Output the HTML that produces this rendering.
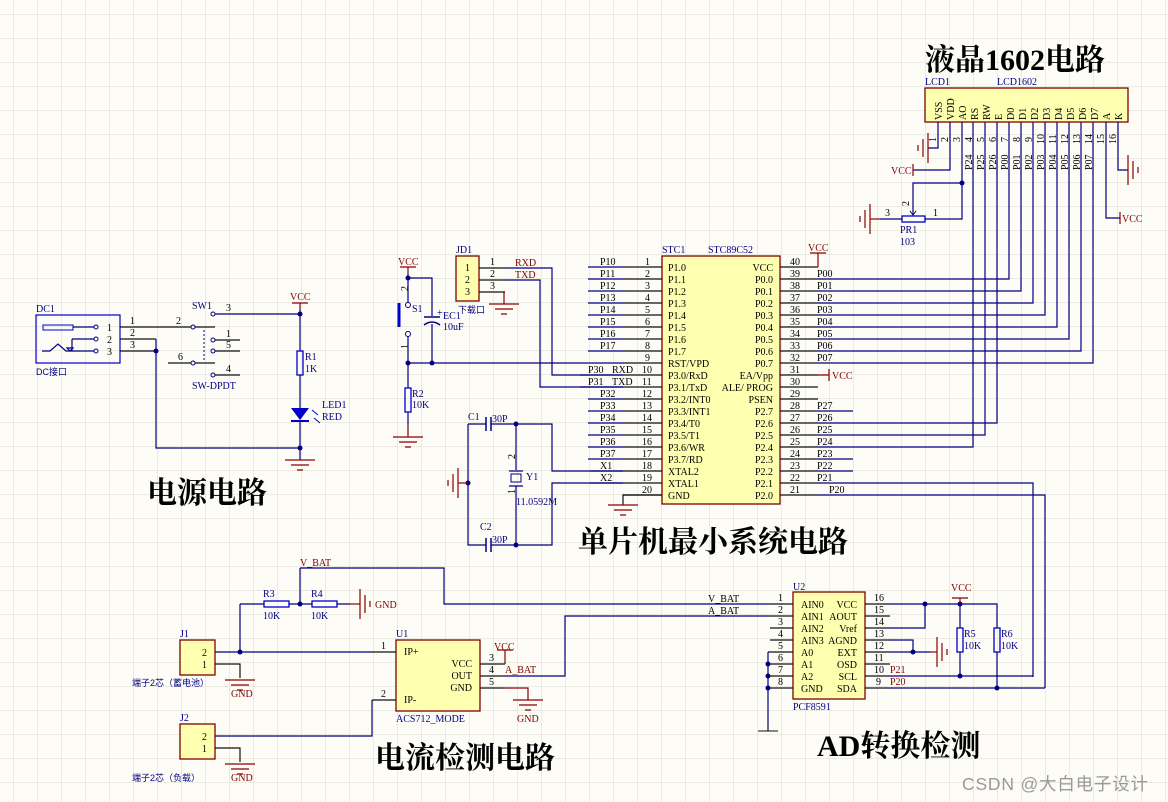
<!DOCTYPE html>
<html><head><meta charset="utf-8"><style>
html,body{margin:0;padding:0;}
body{width:1168px;height:802px;overflow:hidden;background-color:#fdfcf7;
background-image:linear-gradient(to right,#ebebe4 1px,transparent 1px),linear-gradient(to bottom,#ebebe4 1px,transparent 1px);
background-size:24px 24px;background-position:13px 14px;}
svg{position:absolute;left:0;top:0;}
.w{stroke:#000080;stroke-width:1.2;fill:none}
.p{stroke:#111;stroke-width:1.2;fill:none}
.r{stroke:#8b0000;stroke-width:1.2;fill:none}
.box{fill:#ffffb0;stroke:#800000;stroke-width:1.3}
.res{fill:none;stroke:#0000cc;stroke-width:1.3}
text{font-family:"Liberation Serif",serif;font-size:10px;fill:#000}
.b{fill:#000080}
.n{fill:#800000}
.t{font-family:"Liberation Serif","Noto Serif CJK SC",serif;font-size:30px;fill:#000;font-weight:bold}
.c{font-family:"Liberation Sans","Noto Sans CJK SC",sans-serif;font-size:9px;fill:#000080}
</style></head><body>
<svg width="1168" height="802" viewBox="0 0 1168 802">
<defs>
<g id="gd" class="r"><path d="M-15 0H15M-9 5H9M-3 10H3"/></g>
<g id="gr" class="r"><path d="M0 -15V15M5 -9V9M10 -3V3"/></g>
<g id="gl" class="r"><path d="M0 -15V15M-5 -9V9M-10 -3V3"/></g>
</defs>

<!-- titles -->
<text class="t" x="925" y="70">液晶1602电路</text>
<text class="t" x="147" y="503">电源电路</text>
<text class="t" x="578" y="552">单片机最小系统电路</text>
<text class="t" x="375" y="768">电流检测电路</text>
<text class="t" x="817" y="756">AD转换检测</text>
<text x="962" y="790" style="font-family:'Liberation Sans','Noto Sans CJK SC',sans-serif;font-size:17.5px;letter-spacing:0.8px;fill:#999">CSDN @大白电子设计</text>

<!-- ===== Power ===== -->
<text class="b" x="36" y="312">DC1</text>
<rect x="36" y="315" width="84" height="48" fill="none" stroke="#0000cc" stroke-width="1.2"/>
<rect x="43" y="325" width="30" height="5" fill="none" stroke="#0000cc"/>
<path class="w" d="M73 327H94M72 339H94M72 339V351M42 351L50 351L58 344L66 351H94M70 351l-3 -3h6z"/>
<circle cx="96" cy="327" r="2" fill="none" stroke="#000080"/><circle cx="96" cy="339" r="2" fill="none" stroke="#000080"/><circle cx="96" cy="351" r="2" fill="none" stroke="#000080"/>
<text x="107" y="331">1</text><text x="107" y="343">2</text><text x="107" y="355">3</text>
<text class="c" x="36" y="375">DC接口</text>
<path class="p" d="M120 327H191M120 339H156M120 351H156"/>
<path class="w" d="M156 339V448H300"/>
<circle cx="156" cy="351" r="2.5" fill="#000080"/>
<text x="130" y="324">1</text><text x="130" y="336">2</text><text x="130" y="348">3</text>
<text x="176" y="324">2</text>
<text class="b" x="192" y="309">SW1</text>
<g fill="none" stroke="#000080"><circle cx="193" cy="327" r="2"/><circle cx="213" cy="314" r="2"/><circle cx="213" cy="340" r="2"/><circle cx="213" cy="351" r="2"/><circle cx="193" cy="363" r="2"/><circle cx="213" cy="375" r="2"/></g>
<path class="p" d="M195 327H215M215 340H240M215 351H240M168 363H191M195 363H215M215 375H240"/>
<path class="w" d="M215 314H300" />
<path d="M204 330V360" stroke="#000080" stroke-dasharray="2,2"/>
<text x="226" y="311">3</text><text x="226" y="337">1</text><text x="226" y="348">5</text><text x="178" y="360">6</text><text x="226" y="372">4</text>
<text class="b" x="192" y="389">SW-DPDT</text>
<text class="n" x="290" y="300">VCC</text>
<path class="r" d="M292 303H308M300 303V310"/>
<path class="w" d="M300 310V351M300 375V408M300 420V460"/>
<circle cx="300" cy="314" r="2.5" fill="#000080"/><circle cx="300" cy="448" r="2.5" fill="#000080"/>
<rect x="297" y="351" width="6" height="24" class="res"/>
<text class="b" x="305" y="360">R1</text><text class="b" x="305" y="372">1K</text>
<path d="M291 408H309L300 420Z" fill="#0000cc"/><path d="M291 421H309" stroke="#0000cc" stroke-width="2"/>
<path d="M312 410l6 5M314 418l6 5" stroke="#0000cc"/>
<text class="b" x="322" y="408">LED1</text><text class="b" x="322" y="420">RED</text>
<use href="#gd" x="300" y="460"/>

<!-- ===== Reset / JD1 ===== -->
<text class="n" x="398" y="265">VCC</text>
<path class="r" d="M400 267H416M408 267V274"/>
<path class="w" d="M408 274V302M408 278H432V316M432 324V363M408 337V363H623M408 363V388M408 412V425"/>
<path class="r" d="M408 425V437"/>
<use href="#gd" x="408" y="437"/>
<circle cx="408" cy="278" r="2.5" fill="#000080"/><circle cx="408" cy="363" r="2.5" fill="#000080"/><circle cx="432" cy="363" r="2.5" fill="#000080"/>
<circle cx="408" cy="305" r="2.5" fill="none" stroke="#000080"/><circle cx="408" cy="334" r="2.5" fill="none" stroke="#000080"/>
<path d="M399 303V327" stroke="#0000cc" stroke-width="3"/>
<text class="b" x="412" y="312">S1</text>
<text x="404" y="295" transform="rotate(-90 404 291)">2</text><text x="404" y="353" transform="rotate(-90 404 349)">1</text>
<path d="M424 317H440" stroke="#000080" stroke-width="1.5"/><path d="M424 325Q432 319 440 325" fill="none" stroke="#000080" stroke-width="1.5"/>
<text class="b" x="437" y="316">+</text><text class="b" x="443" y="319">EC1</text><text class="b" x="443" y="330">10uF</text>
<rect x="405" y="388" width="6" height="24" class="res"/>
<text class="b" x="412" y="397">R2</text><text class="b" x="412" y="408">10K</text>

<text class="b" x="456" y="253">JD1</text>
<rect x="456" y="256" width="23" height="45" class="box"/>
<text x="465" y="271">1</text><text x="465" y="283">2</text><text x="465" y="295">3</text>
<path class="p" d="M479 268H505M479 280H505M479 292H505"/>
<path class="w" d="M505 268H552V375H623M505 280H540V387H623"/>
<path class="r" d="M505 292H504V304"/>
<use href="#gd" x="504" y="304"/>
<text x="490" y="265">1</text><text x="490" y="277">2</text><text x="490" y="289">3</text>
<text class="n" x="515" y="266">RXD</text><text class="n" x="515" y="278">TXD</text>
<text class="c" x="458" y="313">下载口</text>

<!-- crystal -->
<text class="b" x="468" y="420">C1</text><text class="b" x="492" y="422">30P</text>
<text class="b" x="480" y="530">C2</text><text class="b" x="492" y="543">30P</text>
<path class="w" d="M468 424H486M491 424H552V471H623M468 424V545H486M491 545H552V483H623M516 424V470M516 486V545"/>
<path d="M486 417V431M491 417V431M486 538V552M491 538V552" stroke="#000080" stroke-width="1.5"/>
<circle cx="516" cy="424" r="2.5" fill="#000080"/><circle cx="516" cy="545" r="2.5" fill="#000080"/><circle cx="468" cy="483" r="2.5" fill="#000080"/>
<path d="M509 471H523M509 486H523" stroke="#000080" stroke-width="1.3"/><rect x="511" y="474" width="10" height="8" fill="none" stroke="#000080"/>
<text class="b" x="526" y="480">Y1</text><text class="b" x="516" y="505">11.0592M</text>
<text x="511" y="463" transform="rotate(-90 511 459)">2</text><text x="511" y="498" transform="rotate(-90 511 494)">1</text>
<path class="r" d="M468 483H458"/>
<use href="#gl" x="458" y="483"/>

<!-- ===== MCU ===== -->
<text class="b" x="662" y="253">STC1</text><text class="b" x="708" y="253">STC89C52</text>
<rect x="662" y="256" width="118" height="248" class="box"/>
<g class="p">
<path d="M623 267H662M623 279H662M623 291H662M623 303H662M623 315H662M623 327H662M623 339H662M623 351H662M623 363H662M623 375H662M623 387H662M623 399H662M623 411H662M623 423H662M623 435H662M623 447H662M623 459H662M623 471H662M623 483H662M623 495H662"/>
<path d="M780 267H818M780 279H818M780 291H818M780 303H818M780 315H818M780 327H818M780 339H818M780 351H818M780 363H818M780 375H818M780 387H818M780 399H818M780 411H818M780 423H818M780 435H818M780 447H818M780 459H818M780 471H818M780 483H818M780 495H818"/>
</g>
<path class="w" d="M588 267H623M588 279H623M588 291H623M588 303H623M588 315H623M588 327H623M588 339H623M588 351H623M588 399H623M588 411H623M588 423H623M588 435H623M588 447H623M588 459H623M590 471H623M590 483H623M580 375H623M580 387H623"/>
<g font-size="10">
<text x="645" y="265">1</text><text x="645" y="277">2</text><text x="645" y="289">3</text><text x="645" y="301">4</text><text x="645" y="313">5</text><text x="645" y="325">6</text><text x="645" y="337">7</text><text x="645" y="349">8</text><text x="645" y="361">9</text><text x="642" y="373">10</text><text x="642" y="385">11</text><text x="642" y="397">12</text><text x="642" y="409">13</text><text x="642" y="421">14</text><text x="642" y="433">15</text><text x="642" y="445">16</text><text x="642" y="457">17</text><text x="642" y="469">18</text><text x="642" y="481">19</text><text x="642" y="493">20</text>
<text x="790" y="265">40</text><text x="790" y="277">39</text><text x="790" y="289">38</text><text x="790" y="301">37</text><text x="790" y="313">36</text><text x="790" y="325">35</text><text x="790" y="337">34</text><text x="790" y="349">33</text><text x="790" y="361">32</text><text x="790" y="373">31</text><text x="790" y="385">30</text><text x="790" y="397">29</text><text x="790" y="409">28</text><text x="790" y="421">27</text><text x="790" y="433">26</text><text x="790" y="445">25</text><text x="790" y="457">24</text><text x="790" y="469">23</text><text x="790" y="481">22</text><text x="790" y="493">21</text>
</g>
<g class="n">
<text x="600" y="265">P10</text><text x="600" y="277">P11</text><text x="600" y="289">P12</text><text x="600" y="301">P13</text><text x="600" y="313">P14</text><text x="600" y="325">P15</text><text x="600" y="337">P16</text><text x="600" y="349">P17</text>
<text x="588" y="373">P30</text><text x="612" y="373">RXD</text><text x="588" y="385">P31</text><text x="612" y="385">TXD</text>
<text x="600" y="397">P32</text><text x="600" y="409">P33</text><text x="600" y="421">P34</text><text x="600" y="433">P35</text><text x="600" y="445">P36</text><text x="600" y="457">P37</text><text x="600" y="469">X1</text><text x="600" y="481">X2</text>
<text x="817" y="277">P00</text><text x="817" y="289">P01</text><text x="817" y="301">P02</text><text x="817" y="313">P03</text><text x="817" y="325">P04</text><text x="817" y="337">P05</text><text x="817" y="349">P06</text><text x="817" y="361">P07</text>
<text x="817" y="409">P27</text><text x="817" y="421">P26</text><text x="817" y="433">P25</text><text x="817" y="445">P24</text><text x="817" y="457">P23</text><text x="817" y="469">P22</text><text x="817" y="481">P21</text><text x="829" y="493">P20</text>
</g>
<g>
<text x="668" y="271">P1.0</text><text x="668" y="283">P1.1</text><text x="668" y="295">P1.2</text><text x="668" y="307">P1.3</text><text x="668" y="319">P1.4</text><text x="668" y="331">P1.5</text><text x="668" y="343">P1.6</text><text x="668" y="355">P1.7</text><text x="668" y="367">RST/VPD</text><text x="668" y="379">P3.0/RxD</text><text x="668" y="391">P3.1/TxD</text><text x="668" y="403">P3.2/INT0</text><text x="668" y="415">P3.3/INT1</text><text x="668" y="427">P3.4/T0</text><text x="668" y="439">P3.5/T1</text><text x="668" y="451">P3.6/WR</text><text x="668" y="463">P3.7/RD</text><text x="668" y="475">XTAL2</text><text x="668" y="487">XTAL1</text><text x="668" y="499">GND</text>
</g>
<g text-anchor="end">
<text x="773" y="271">VCC</text><text x="773" y="283">P0.0</text><text x="773" y="295">P0.1</text><text x="773" y="307">P0.2</text><text x="773" y="319">P0.3</text><text x="773" y="331">P0.4</text><text x="773" y="343">P0.5</text><text x="773" y="355">P0.6</text><text x="773" y="367">P0.7</text><text x="773" y="379">EA/Vpp</text><text x="773" y="391">ALE/ PROG</text><text x="773" y="403">PSEN</text><text x="773" y="415">P2.7</text><text x="773" y="427">P2.6</text><text x="773" y="439">P2.5</text><text x="773" y="451">P2.4</text><text x="773" y="463">P2.3</text><text x="773" y="475">P2.2</text><text x="773" y="487">P2.1</text><text x="773" y="499">P2.0</text>
</g>
<path class="r" d="M818 267V253M810 253H826M818 375H829M829 369V381"/>
<text class="n" x="808" y="251">VCC</text><text class="n" x="832" y="379">VCC</text>
<path class="p" d="M662 495H623V505"/><use href="#gd" x="623" y="505"/>
<!-- MCU right wires -->
<path class="w" d="M818 279H1009V122M818 291H1021V122M818 303H1033V122M818 315H1045V122M818 327H1057V122M818 339H1069V122M818 351H1081V122M818 363H1093V122
M818 411H853M818 423H997V122M818 435H985V122M818 447H973V122M818 459H853M818 471H853M818 483H1033V677M818 495H1045V688"/>

<!-- ===== LCD ===== -->
<text class="b" x="925" y="85">LCD1</text><text class="b" x="997" y="85">LCD1602</text>
<rect x="925" y="88" width="203" height="34" class="box"/>
<g font-size="10">
<text transform="translate(942 120) rotate(-90)">VSS</text><text transform="translate(954 120) rotate(-90)">VDD</text><text transform="translate(966 120) rotate(-90)">AO</text><text transform="translate(978 120) rotate(-90)">RS</text><text transform="translate(990 120) rotate(-90)">RW</text><text transform="translate(1002 120) rotate(-90)">E</text><text transform="translate(1014 120) rotate(-90)">D0</text><text transform="translate(1026 120) rotate(-90)">D1</text><text transform="translate(1038 120) rotate(-90)">D2</text><text transform="translate(1050 120) rotate(-90)">D3</text><text transform="translate(1062 120) rotate(-90)">D4</text><text transform="translate(1074 120) rotate(-90)">D5</text><text transform="translate(1086 120) rotate(-90)">D6</text><text transform="translate(1098 120) rotate(-90)">D7</text><text transform="translate(1110 120) rotate(-90)">A</text><text transform="translate(1122 120) rotate(-90)">K</text>
<text transform="translate(936 142) rotate(-90)">1</text><text transform="translate(948 142) rotate(-90)">2</text><text transform="translate(960 142) rotate(-90)">3</text><text transform="translate(972 142) rotate(-90)">4</text><text transform="translate(984 142) rotate(-90)">5</text><text transform="translate(996 142) rotate(-90)">6</text><text transform="translate(1008 142) rotate(-90)">7</text><text transform="translate(1020 142) rotate(-90)">8</text><text transform="translate(1032 142) rotate(-90)">9</text><text transform="translate(1044 144) rotate(-90)">10</text><text transform="translate(1056 144) rotate(-90)">11</text><text transform="translate(1068 144) rotate(-90)">12</text><text transform="translate(1080 144) rotate(-90)">13</text><text transform="translate(1092 144) rotate(-90)">14</text><text transform="translate(1104 144) rotate(-90)">15</text><text transform="translate(1116 144) rotate(-90)">16</text>
</g>
<g class="n" font-size="10">
<text transform="translate(972 170) rotate(-90)">P24</text><text transform="translate(984 170) rotate(-90)">P25</text><text transform="translate(996 170) rotate(-90)">P26</text><text transform="translate(1008 170) rotate(-90)">P00</text><text transform="translate(1020 170) rotate(-90)">P01</text><text transform="translate(1032 170) rotate(-90)">P02</text><text transform="translate(1044 170) rotate(-90)">P03</text><text transform="translate(1056 170) rotate(-90)">P04</text><text transform="translate(1068 170) rotate(-90)">P05</text><text transform="translate(1080 170) rotate(-90)">P06</text><text transform="translate(1092 170) rotate(-90)">P07</text>
</g>
<path class="w" d="M938 122V148H928M950 122V170H913M962 122V219H925M962 183H913V212M1106 122V218H1120M1118 122V170H1128"/>
<circle cx="962" cy="183" r="2.5" fill="#000080"/>
<use href="#gl" x="928" y="148"/>
<path class="r" d="M913 164V176"/><text class="n" x="891" y="174">VCC</text>
<path class="r" d="M1120 212V224"/><text class="n" x="1122" y="222">VCC</text>
<use href="#gr" x="1128" y="170"/>
<rect x="902" y="216" width="23" height="6" class="res"/>
<path d="M913 206V215M910 211l3 4 3-4" stroke="#000080" fill="none"/>
<path class="w" d="M880 219H902"/><path class="r" d="M880 219H870"/><use href="#gl" x="870" y="219"/>
<text x="885" y="216">3</text><text x="933" y="216">1</text><text transform="translate(909 206) rotate(-90)">2</text>
<text class="b" x="900" y="233">PR1</text><text class="b" x="900" y="245">103</text>

<!-- ===== Current detect ===== -->
<text class="n" x="300" y="566">V_BAT</text>
<path class="w" d="M300 568H444V604H770M300 568V604M240 604H264M289 604H312M337 604H350M215 652H372M372 700V736H215M505 676H565V616H770"/>
<path class="w" d="M240 604V652"/>
<rect x="264" y="601" width="25" height="6" class="res"/><rect x="312" y="601" width="25" height="6" class="res"/>
<circle cx="300" cy="604" r="2.5" fill="#000080"/><circle cx="240" cy="652" r="2.5" fill="#000080"/>
<path class="r" d="M350 604H360"/><use href="#gr" x="360" y="604"/>
<text class="n" x="375" y="608">GND</text>
<text class="b" x="263" y="597">R3</text><text class="b" x="263" y="619">10K</text><text class="b" x="311" y="597">R4</text><text class="b" x="311" y="619">10K</text>
<text class="b" x="180" y="637">J1</text>
<rect x="180" y="640" width="35" height="35" class="box"/>
<text x="202" y="656">2</text><text x="202" y="668">1</text>
<path class="p" d="M215 664H240V678"/><use href="#gd" x="240" y="680"/>
<text class="n" x="231" y="697">GND</text>
<text class="c" x="132" y="686">端子2芯（蓄电池）</text>
<text class="b" x="180" y="721">J2</text>
<rect x="180" y="724" width="35" height="35" class="box"/>
<text x="202" y="740">2</text><text x="202" y="752">1</text>
<path class="p" d="M215 748H240V762"/><use href="#gd" x="240" y="764"/>
<text class="n" x="231" y="781">GND</text>
<text class="c" x="132" y="781">端子2芯（负载）</text>
<path class="p" d="M372 652H396M372 700H396M480 664H505M480 676H505M480 688H505"/>
<text x="381" y="649">1</text><text x="381" y="697">2</text>
<text class="b" x="396" y="637">U1</text>
<rect x="396" y="640" width="84" height="71" class="box"/>
<text x="404" y="655">IP+</text><text x="404" y="703">IP-</text>
<text x="472" y="667" text-anchor="end">VCC</text><text x="472" y="679" text-anchor="end">OUT</text><text x="472" y="691" text-anchor="end">GND</text>
<text class="b" x="396" y="722">ACS712_MODE</text>
<text x="489" y="661">3</text><text x="489" y="673">4</text><text x="489" y="685">5</text>
<path class="r" d="M505 664V650M497 650H513M505 688H528V700"/>
<text class="n" x="494" y="650">VCC</text>
<text class="n" x="505" y="673">A_BAT</text>
<use href="#gd" x="528" y="700"/><text class="n" x="517" y="722">GND</text>

<!-- ===== PCF8591 ===== -->
<text class="b" x="793" y="590">U2</text>
<rect x="793" y="592" width="72" height="107" class="box"/>
<text x="708" y="602">V_BAT</text><text x="708" y="614">A_BAT</text>
<path class="p" d="M770 604H793M770 616H793M770 628H793M770 640H793M768 652H793M768 664H793M768 676H793M768 688H793M865 604H890M865 616H890M865 628H890M865 640H890M865 652H890M865 664H890M865 676H890M865 688H890"/>
<path class="w" d="M768 652V725M890 604H997V628M890 628H925V604M890 640H913V652M890 652H930M890 676H1033M890 688H1045M960 604V628M960 652V676M997 652V688"/>
<circle cx="768" cy="664" r="2.5" fill="#000080"/><circle cx="768" cy="676" r="2.5" fill="#000080"/><circle cx="768" cy="688" r="2.5" fill="#000080"/>
<circle cx="925" cy="604" r="2.5" fill="#000080"/><circle cx="960" cy="604" r="2.5" fill="#000080"/><circle cx="913" cy="652" r="2.5" fill="#000080"/><circle cx="960" cy="676" r="2.5" fill="#000080"/><circle cx="997" cy="688" r="2.5" fill="#000080"/>
<path class="p" d="M768 725V731"/><path d="M758 731H778" stroke="#111"/>
<path class="r" d="M930 652H937"/><use href="#gr" x="937" y="652"/>
<path class="r" d="M960 604V598M952 598H968"/><text class="n" x="951" y="591">VCC</text>
<rect x="957" y="628" width="6" height="24" class="res"/><rect x="994" y="628" width="6" height="24" class="res"/>
<text class="b" x="964" y="637">R5</text><text class="b" x="964" y="649">10K</text><text class="b" x="1001" y="637">R6</text><text class="b" x="1001" y="649">10K</text>
<g>
<text x="778" y="601">1</text><text x="778" y="613">2</text><text x="778" y="625">3</text><text x="778" y="637">4</text><text x="778" y="649">5</text><text x="778" y="661">6</text><text x="778" y="673">7</text><text x="778" y="685">8</text>
<text x="874" y="601">16</text><text x="874" y="613">15</text><text x="874" y="625">14</text><text x="874" y="637">13</text><text x="874" y="649">12</text><text x="874" y="661">11</text><text x="874" y="673">10</text><text x="876" y="685">9</text>
<text x="801" y="608">AIN0</text><text x="801" y="620">AIN1</text><text x="801" y="632">AIN2</text><text x="801" y="644">AIN3</text><text x="801" y="656">A0</text><text x="801" y="668">A1</text><text x="801" y="680">A2</text><text x="801" y="692">GND</text>
<g text-anchor="end"><text x="857" y="608">VCC</text><text x="857" y="620">AOUT</text><text x="857" y="632">Vref</text><text x="857" y="644">AGND</text><text x="857" y="656">EXT</text><text x="857" y="668">OSD</text><text x="857" y="680">SCL</text><text x="857" y="692">SDA</text></g>
</g>
<text class="n" x="890" y="673">P21</text><text class="n" x="890" y="685">P20</text>
<text class="b" x="793" y="710">PCF8591</text>
</svg>
</body></html>
